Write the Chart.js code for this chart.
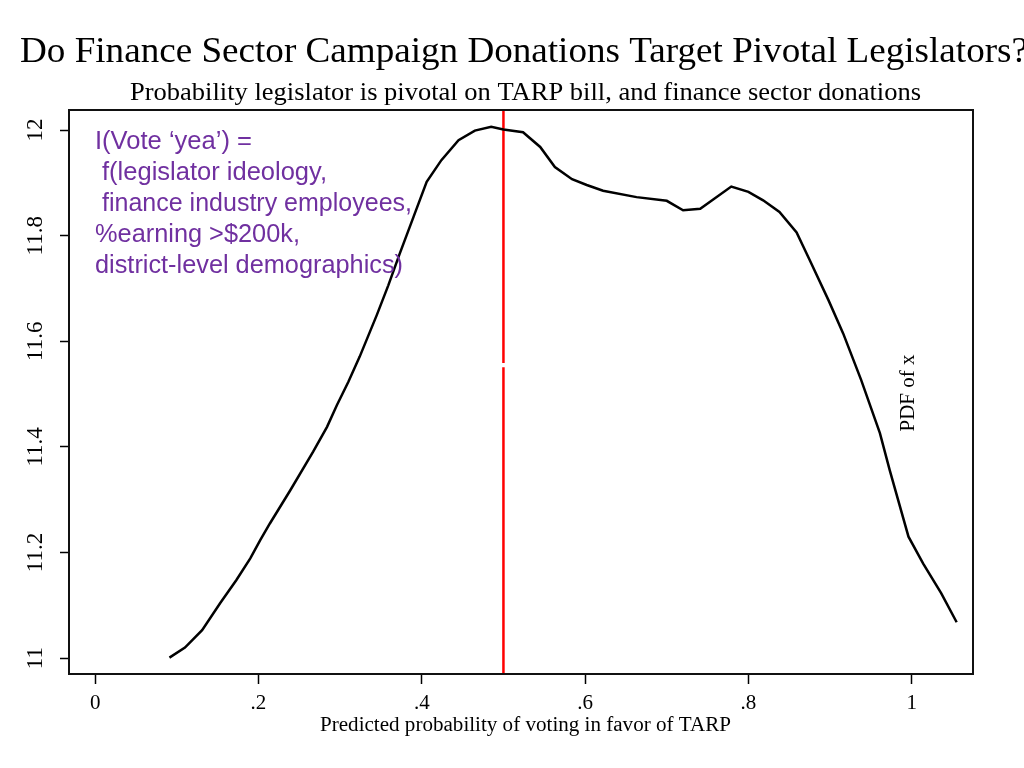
<!DOCTYPE html>
<html>
<head>
<meta charset="utf-8">
<script src="https://cdn.jsdelivr.net/npm/chart.js@4.4.1/dist/chart.umd.min.js"></script>
<style>
  html, body { margin: 0; padding: 0; background: #fff; }
  #wrap { width: 1024px; height: 768px; position: relative; }
</style>
</head>
<body>
<div id="wrap"><canvas id="c" width="1024" height="768"></canvas></div>
<script>
// ---- Data ----
const densityX = [0.091,0.110,0.131,0.153,0.173,0.190,0.202,0.214,0.239,0.267,0.284,0.296,0.310,0.324,0.345,0.359,0.373,0.390,0.406,0.424,0.445,0.465,0.485,0.500,0.524,0.545,0.563,0.584,0.602,0.622,0.663,0.700,0.720,0.741,0.779,0.800,0.818,0.838,0.859,0.875,0.898,0.916,0.938,0.961,0.973,0.996,1.014,1.036,1.055];
const densityY = [11.001,11.020,11.053,11.104,11.148,11.189,11.223,11.255,11.318,11.391,11.438,11.479,11.523,11.571,11.650,11.706,11.766,11.836,11.902,11.943,11.981,11.999,12.006,12.001,11.996,11.968,11.930,11.907,11.896,11.885,11.873,11.866,11.848,11.851,11.893,11.883,11.867,11.845,11.806,11.754,11.678,11.615,11.527,11.426,11.356,11.230,11.179,11.123,11.068];
const pivotX = 0.5;
const pivotGap = [11.559, 11.551];
const xRange = [-0.032, 1.075];
const yRange = [10.970, 12.038];
const xTickValues = [0, 0.2, 0.4, 0.6, 0.8, 1];
const xTickLabels = ['0', '.2', '.4', '.6', '.8', '1'];
const yTickValues = [11, 11.2, 11.4, 11.6, 11.8, 12];
const yTickLabels = ['11', '11.2', '11.4', '11.6', '11.8', '12'];
const titleText = 'Do Finance Sector Campaign Donations Target Pivotal Legislators?';
const subtitleText = 'Probability legislator is pivotal on TARP bill, and finance sector donations';
const xAxisTitle = 'Predicted probability of voting in favor of TARP';
const rightLabel = 'PDF of x';
const noteLines = ['I(Vote \u2018yea\u2019) =', 'f(legislator ideology,', 'finance industry employees,', '%earning >$200k,', 'district-level demographics)'];

const densityPoints = densityX.map((x, i) => ({ x: x, y: densityY[i] }));
const pivotPoints = [
  { x: pivotX, y: yRange[1] }, { x: pivotX, y: pivotGap[0] },
  { x: pivotX, y: null },
  { x: pivotX, y: pivotGap[1] }, { x: pivotX, y: yRange[0] }
];

const SERIF = '"Liberation Serif", "Times New Roman", serif';
const SANS = '"Liberation Sans", Arial, sans-serif';

function fitText(ctx, text, left, baseline, font, width, base) {
  ctx.save();
  ctx.font = font;
  ctx.textBaseline = base || 'alphabetic';
  ctx.textAlign = 'left';
  const w = ctx.measureText(text).width;
  ctx.translate(left, baseline);
  ctx.scale(width / w, 1);
  ctx.fillText(text, 0, 0);
  ctx.restore();
}

const decor = {
  id: 'decor',
  afterDatasetsDraw(chart) {
    const ctx = chart.ctx;
    const a = chart.chartArea;
    const ys = chart.scales.y;
    ctx.save();
    ctx.fillStyle = '#000';
    // titles
    fitText(ctx, titleText, 20, 62, '36px ' + SERIF, 1008);
    fitText(ctx, subtitleText, 130, 100, '26px ' + SERIF, 791);
    fitText(ctx, xAxisTitle, 320, 731, '20px ' + SERIF, 411);
    // y tick labels, rotated
    ctx.font = '23px ' + SERIF;
    ctx.textAlign = 'center';
    ctx.textBaseline = 'middle';
    yTickValues.forEach((v, i) => {
      const py = ys.getPixelForValue(v);
      ctx.save();
      ctx.translate(36, py);
      ctx.rotate(-Math.PI / 2);
      ctx.fillText(yTickLabels[i], 0, 0);
      ctx.restore();
    });
    // PDF of x
    ctx.save();
    ctx.font = '21px ' + SERIF;
    ctx.translate(908, 393);
    ctx.rotate(-Math.PI / 2);
    ctx.fillText(rightLabel, 0, 0);
    ctx.restore();
    // note text
    ctx.fillStyle = '#7030A0';
    const noteY = [142, 173, 204, 235, 266];
    const noteLeft = [95, 102, 102, 95, 95];
    const noteW = [157, 225, 310, 205, 308];
    noteLines.forEach((t, i) => fitText(ctx, t, noteLeft[i], noteY[i], '25px ' + SANS, noteW[i], 'middle'));
    // box
    ctx.strokeStyle = '#111';
    ctx.lineWidth = 2;
    ctx.strokeRect(a.left, a.top, a.right - a.left, a.bottom - a.top);
    ctx.restore();
  }
};

new Chart(document.getElementById('c'), {
  type: 'scatter',
  data: {
    datasets: [
      {
        data: densityPoints,
        showLine: true,
        borderColor: '#000',
        borderWidth: 2.5,
        pointRadius: 0,
        tension: 0,
        fill: false
      },
      {
        data: pivotPoints,
        showLine: true,
        spanGaps: false,
        borderColor: '#ff0000',
        borderWidth: 2.5,
        pointRadius: 0,
        tension: 0,
        fill: false
      }
    ]
  },
  options: {
    responsive: false,
    animation: false,
    layout: { padding: { top: 110, right: 51, bottom: 0, left: 0 } },
    plugins: { legend: { display: false }, tooltip: { enabled: false }, title: { display: false } },
    scales: {
      x: {
        type: 'linear',
        position: 'bottom',
        min: xRange[0],
        max: xRange[1],
        afterBuildTicks: (s) => { s.ticks = xTickValues.map(v => ({ value: v })); },
        afterFit: (s) => { s.height = 94; },
        border: { display: false },
        grid: { drawOnChartArea: false, drawTicks: true, tickLength: 10, tickColor: '#000', tickWidth: 1.5 },
        ticks: {
          autoSkip: false,
          maxRotation: 0,
          minRotation: 0,
          padding: 7,
          color: '#000',
          font: { family: SERIF, size: 21 },
          callback: (v) => { const i = xTickValues.indexOf(v); return i >= 0 ? xTickLabels[i] : ''; }
        }
      },
      y: {
        type: 'linear',
        position: 'left',
        min: yRange[0],
        max: yRange[1],
        afterBuildTicks: (s) => { s.ticks = yTickValues.map(v => ({ value: v })); },
        afterFit: (s) => { s.width = 69; },
        border: { display: false },
        grid: { drawOnChartArea: false, drawTicks: true, tickLength: 9, tickColor: '#000', tickWidth: 1.5 },
        ticks: { display: false }
      }
    }
  },
  plugins: [decor]
});
</script>
</body>
</html>
